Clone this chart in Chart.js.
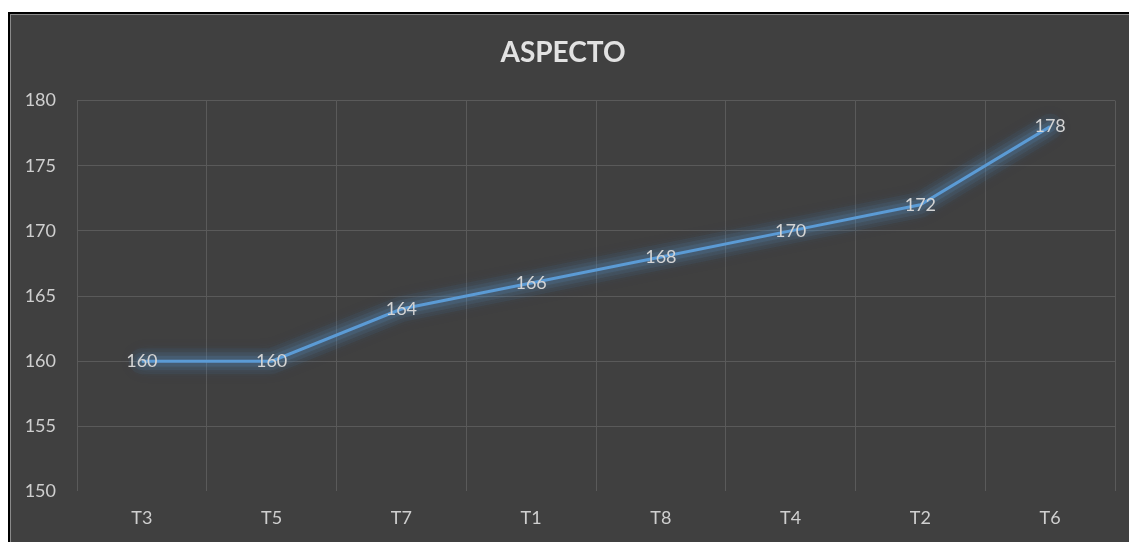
<!DOCTYPE html>
<html>
<head>
<meta charset="utf-8">
<script src="https://cdn.jsdelivr.net/npm/chart.js@4/dist/chart.umd.min.js"></script>
<style>
  html, body { margin: 0; padding: 0; background: #ffffff; }
  #frame { position: absolute; left: 8px; top: 12px; width: 1121px; height: 530px;
           background: #000; }
  #inner { position: absolute; left: 2px; top: 2px; right: 0; bottom: 0;
           background: #8a8a8a; }
  #box { position: absolute; left: 1px; top: 1px; right: 0; bottom: 0; background: #404040; }
  canvas { display: block; }
</style>
</head>
<body>
<div id="frame"><div id="inner"><div id="box"><canvas id="c" width="1118" height="527"></canvas></div></div></div>
<script>
const categories = ["T3", "T5", "T7", "T1", "T8", "T4", "T2", "T6"];
const aspectoValues = [160, 160, 164, 166, 168, 170, 172, 178];
const chartTitle = "ASPECTO";
const yMin = 150, yMax = 180, yStep = 5;

const FONT = "Lato, 'Open Sans', 'DejaVu Sans', sans-serif";

const glowPlugin = {
  id: 'glow',
  beforeDatasetDraw(chart) {
    const ctx = chart.ctx;
    const meta = chart.getDatasetMeta(0);
    const passes = [[26, 0.06], [18, 0.09], [11, 0.14]];
    ctx.save();
    ctx.lineJoin = 'round';
    ctx.lineCap = 'round';
    ctx.shadowColor = 'rgba(91,155,213,0.6)';
    ctx.shadowBlur = 16;
    passes.forEach(([w, a]) => {
      ctx.strokeStyle = 'rgba(91,155,213,' + a + ')';
      ctx.lineWidth = w;
      ctx.beginPath();
      meta.data.forEach((pt, i) => { if (i === 0) ctx.moveTo(pt.x, pt.y); else ctx.lineTo(pt.x, pt.y); });
      ctx.stroke();
    });
    ctx.restore();
  }
};

const labelPlugin = {
  id: 'pointLabels',
  afterDatasetsDraw(chart) {
    const ctx = chart.ctx;
    const meta = chart.getDatasetMeta(0);
    ctx.save();
    ctx.font = "18px " + FONT;
    ctx.fillStyle = '#d4d4d4';
    ctx.textAlign = 'center';
    ctx.textBaseline = 'middle';
    meta.data.forEach((pt, i) => {
      ctx.fillText(String(chart.data.datasets[0].data[i]), pt.x, pt.y);
    });
    ctx.restore();
  }
};

new Chart(document.getElementById('c'), {
  type: 'line',
  data: {
    labels: categories,
    datasets: [{
      label: chartTitle,
      data: aspectoValues,
      borderColor: '#5b9bd5',
      borderWidth: 3,
      pointRadius: 0,
      tension: 0,
      fill: false
    }]
  },
  plugins: [glowPlugin, labelPlugin],
  options: {
    responsive: false,
    animation: false,
    layout: { padding: { left: 0, right: 14, top: 0, bottom: -3 } },
    plugins: {
      legend: { display: false },
      tooltip: { enabled: false },
      title: {
        display: true,
        text: chartTitle,
        color: '#e2e2e2',
        font: { family: FONT, size: 28, weight: 'bold' },
        padding: { top: 21, bottom: 31 }
      }
    },
    scales: {
      x: {
        offset: true,
        grid: { offset: true, color: '#5a5a5a', lineWidth: 1, drawTicks: false },
        border: { display: false },
        ticks: { color: '#cfcfcf', font: { family: FONT, size: 18 }, padding: 16 }
      },
      y: {
        min: yMin, max: yMax,
        afterFit(scale) { scale.width = 66; },
        grid: {
          color: (c) => (c.tick && c.tick.value === yMin) ? 'rgba(0,0,0,0)' : '#5a5a5a',
          lineWidth: 1, drawTicks: false
        },
        border: { display: false },
        ticks: { stepSize: yStep, color: '#cfcfcf', font: { family: FONT, size: 18 }, padding: 21 }
      }
    }
  }
});
</script>
</body>
</html>
